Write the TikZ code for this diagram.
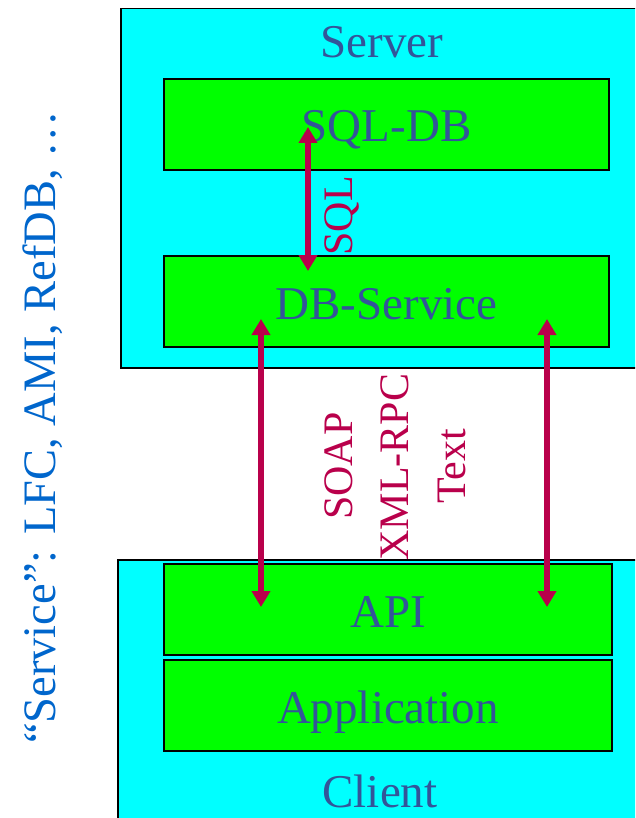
\documentclass[tikz,border=0pt]{standalone}
\usepackage{fontspec}
\setmainfont{Liberation Serif}
\usetikzlibrary{arrows.meta}
\definecolor{lbl}{RGB}{51,85,153}
\definecolor{arrc}{RGB}{185,0,75}
\definecolor{svc}{RGB}{0,102,204}
\definecolor{cyanbg}{RGB}{0,255,255}
\definecolor{greenbg}{RGB}{0,255,0}
\begin{document}
\begin{tikzpicture}[x=1pt,y=-1pt,
  outerbox/.style={draw=black,line width=1.5pt,fill=cyanbg},
  layerbox/.style={draw=black,line width=1.5pt,fill=greenbg,minimum height=91pt,inner sep=0pt,
     text=lbl,font=\fontsize{47}{56}\selectfont,text height=35pt,text depth=0pt},
  biglabel/.style={text=lbl,font=\fontsize{47}{56}\selectfont,anchor=base,inner sep=0pt},
  protolabel/.style={text=arrc,font=\fontsize{42}{50}\selectfont,anchor=base,rotate=90,inner sep=0pt},
  arr/.style={draw=arrc,line width=6pt,{Triangle[width=18pt,length=16pt]}-{Triangle[width=18pt,length=16pt]}}]
\useasboundingbox (0,0) rectangle (635,818);
\clip (0,0) rectangle (635,818);
% outer boxes
\node[outerbox,minimum width=525pt,minimum height=359pt,inner sep=0pt,anchor=north west] (server) at (120,8) {};
\node[outerbox,minimum width=528pt,minimum height=270pt,inner sep=0pt,anchor=north west] (client) at (117,559) {};
\node[biglabel] (serverlbl) at (382,58) {Server};
\node[biglabel] (clientlbl) at (380,807) {Client};
% SQL label
\node[protolabel] (sqllbl) at (352,216) {SQL};
% layer boxes
\node[layerbox,minimum width=445pt] (sqldb) at (386.5,124.5) {SQL-DB};
\node[layerbox,minimum width=445pt] (dbsvc) at (386.5,301.5) {DB-Service};
\node[layerbox,minimum width=448pt] (api) at (388,609.5) {API};
\node[layerbox,minimum width=448pt] (app) at (388,705.5) {Application};
% protocol labels
\node[protolabel] (soap) at (352,466) {SOAP};
\node[protolabel] (xmlrpc) at (408,467) {XML-RPC};
\node[protolabel] (txt) at (465,466) {Text};
% arrow end points
\coordinate (sqlA) at (308,127);
\coordinate (sqlB) at (308,271);
\coordinate (lA) at (261,319);
\coordinate (lB) at (261,607);
\coordinate (rA) at (547,319);
\coordinate (rB) at (547,607);
\draw[arr] (sqlA) -- (sqlB);
\draw[arr] (lA) -- (lB);
\draw[arr] (rA) -- (rB);
% side label
\node[text=svc,font=\fontsize{46.5}{54}\selectfont,anchor=base,rotate=90,inner sep=0pt] (sidelbl) at (55,427.5) {“Service”: LFC, AMI, RefDB, …};
\end{tikzpicture}
\end{document}
